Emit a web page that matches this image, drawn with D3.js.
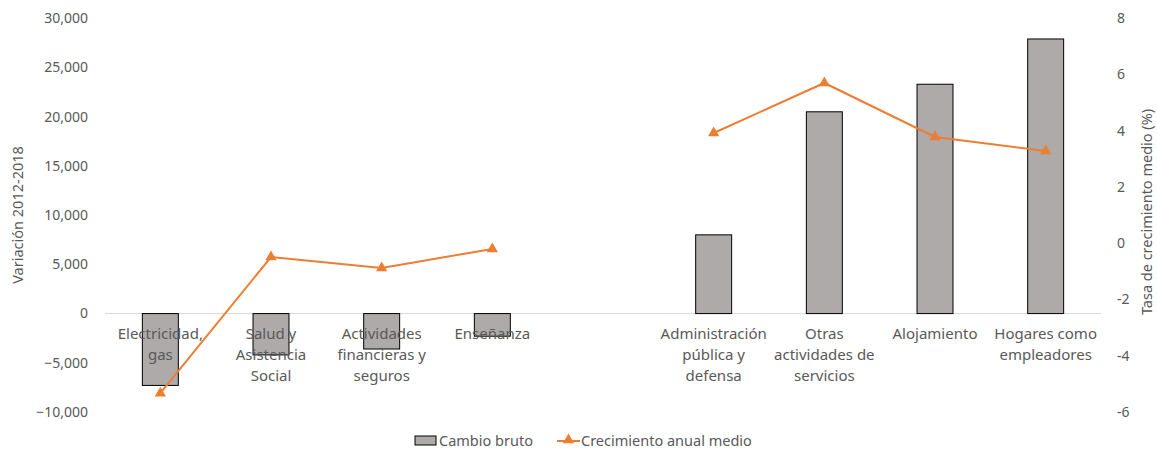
<!DOCTYPE html>
<html>
<head>
<meta charset="utf-8">
<script src="https://cdn.jsdelivr.net/npm/d3@7"></script>
<style>
  html, body { margin: 0; padding: 0; background: #fff; }
  svg { display: block; font-family: "Noto Sans", "Open Sans", sans-serif; }
</style>
</head>
<body>
<svg id="chart" width="1157" height="451"></svg>
<script>
// Sectors (an empty slot separates losers from gainers)
const categories = [
  "Electricidad,|gas",
  "Salud y|Asistencia|Social",
  "Actividades|financieras y|seguros",
  "Enseñanza",
  "",
  "Administración|pública y|defensa",
  "Otras|actividades de|servicios",
  "Alojamiento",
  "Hogares como|empleadores"
];
// Net change in employment 2012-2018
const cambioBruto = [-7300, -4200, -3600, -2300, null, 8000, 20500, 23300, 27900];
// Average annual growth rate (%)
const crecimiento = [-5.33, -0.49, -0.88, -0.2, null, 3.92, 5.7, 3.78, 3.28];

const leftTicks = [-10000, -5000, 0, 5000, 10000, 15000, 20000, 25000, 30000];
const rightTicks = [-6, -4, -2, 0, 2, 4, 6, 8];

const svg = d3.select("#chart");
const textColor = "#595959";
const barFill = "#AEAAAA";
const lineColor = "#ED7D31";

const plotTop = 18.3, plotBottom = 412;
const x = d3.scaleBand().domain(d3.range(categories.length))
  .range([105, 1101]).paddingInner(0.675).paddingOuter(0.3375);
const yL = d3.scaleLinear().domain([-10000, 30000]).range([plotBottom, plotTop]);
const yR = d3.scaleLinear().domain([-6, 8]).range([plotBottom, plotTop]);

// Left axis labels
const fmt = d3.format(",");
svg.append("g").selectAll("text").data(leftTicks).join("text")
  .attr("x", 88).attr("y", d => yL(d)).attr("dy", "0.35em")
  .attr("text-anchor", "end").attr("fill", textColor).style("font-size", "14px")
  .text(d => fmt(d));

// Right axis labels
svg.append("g").selectAll("text").data(rightTicks).join("text")
  .attr("x", 1117).attr("y", d => yR(d)).attr("dy", "0.35em")
  .attr("text-anchor", "start").attr("fill", textColor).style("font-size", "14px")
  .text(d => d);

// Axis titles
svg.append("text")
  .attr("transform", `translate(23,215) rotate(-90)`)
  .attr("text-anchor", "middle").attr("fill", textColor).style("font-size", "14.5px")
  .text("Variación 2012-2018");
svg.append("text")
  .attr("transform", `translate(1152,212) rotate(-90)`)
  .attr("text-anchor", "middle").attr("fill", textColor).style("font-size", "14.5px")
  .text("Tasa de crecimiento medio (%)");

// Zero baseline
svg.append("line")
  .attr("x1", 105).attr("x2", 1101)
  .attr("y1", yL(0)).attr("y2", yL(0))
  .attr("stroke", "#D9D9D9").attr("stroke-width", 1);

// Bars
const barData = cambioBruto.map((v, i) => ({ i, v })).filter(d => d.v !== null);
svg.append("g").selectAll("rect").data(barData).join("rect")
  .attr("x", d => x(d.i))
  .attr("width", x.bandwidth())
  .attr("y", d => Math.min(yL(d.v), yL(0)))
  .attr("height", d => Math.abs(yL(d.v) - yL(0)))
  .attr("fill", barFill).attr("stroke", "#000").attr("stroke-width", 1);

// Category labels (drawn over the bars)
const labels = svg.append("g");
categories.forEach((c, i) => {
  if (!c) return;
  const t = labels.append("text")
    .attr("text-anchor", "middle").attr("fill", textColor).style("font-size", "15px");
  c.split("|").forEach((line, k) => {
    t.append("tspan").attr("x", x(i) + x.bandwidth() / 2)
      .attr("y", 339 + k * 21).text(line);
  });
});

// Growth line
const lineData = crecimiento.map((v, i) => ({ i, v })).filter(d => d.v !== null);
const cx = d => x(d.i) + x.bandwidth() / 2;
const segs = [lineData.slice(0, 4), lineData.slice(4)];
const line = d3.line().x(cx).y(d => yR(d.v));
svg.append("g").selectAll("path").data(segs).join("path")
  .attr("d", line).attr("fill", "none")
  .attr("stroke", lineColor).attr("stroke-width", 2);

const tri = d3.symbol().type(d3.symbolTriangle).size(55);
svg.append("g").selectAll("path").data(lineData).join("path")
  .attr("transform", d => `translate(${cx(d)},${yR(d.v)})`)
  .attr("d", tri).attr("fill", lineColor);

// Legend
const lg = svg.append("g");
lg.append("rect").attr("x", 415).attr("y", 436).attr("width", 21).attr("height", 9)
  .attr("fill", barFill).attr("stroke", "#000").attr("stroke-width", 1);
lg.append("text").attr("x", 439).attr("y", 445.5).attr("fill", textColor)
  .style("font-size", "14.5px").text("Cambio bruto");
lg.append("line").attr("x1", 557).attr("x2", 580).attr("y1", 441).attr("y2", 441)
  .attr("stroke", lineColor).attr("stroke-width", 2);
lg.append("path").attr("transform", "translate(568.5,440)").attr("d", tri).attr("fill", lineColor);
lg.append("text").attr("x", 581).attr("y", 445.5).attr("fill", textColor)
  .style("font-size", "14.5px").text("Crecimiento anual medio");
</script>
</body>
</html>
